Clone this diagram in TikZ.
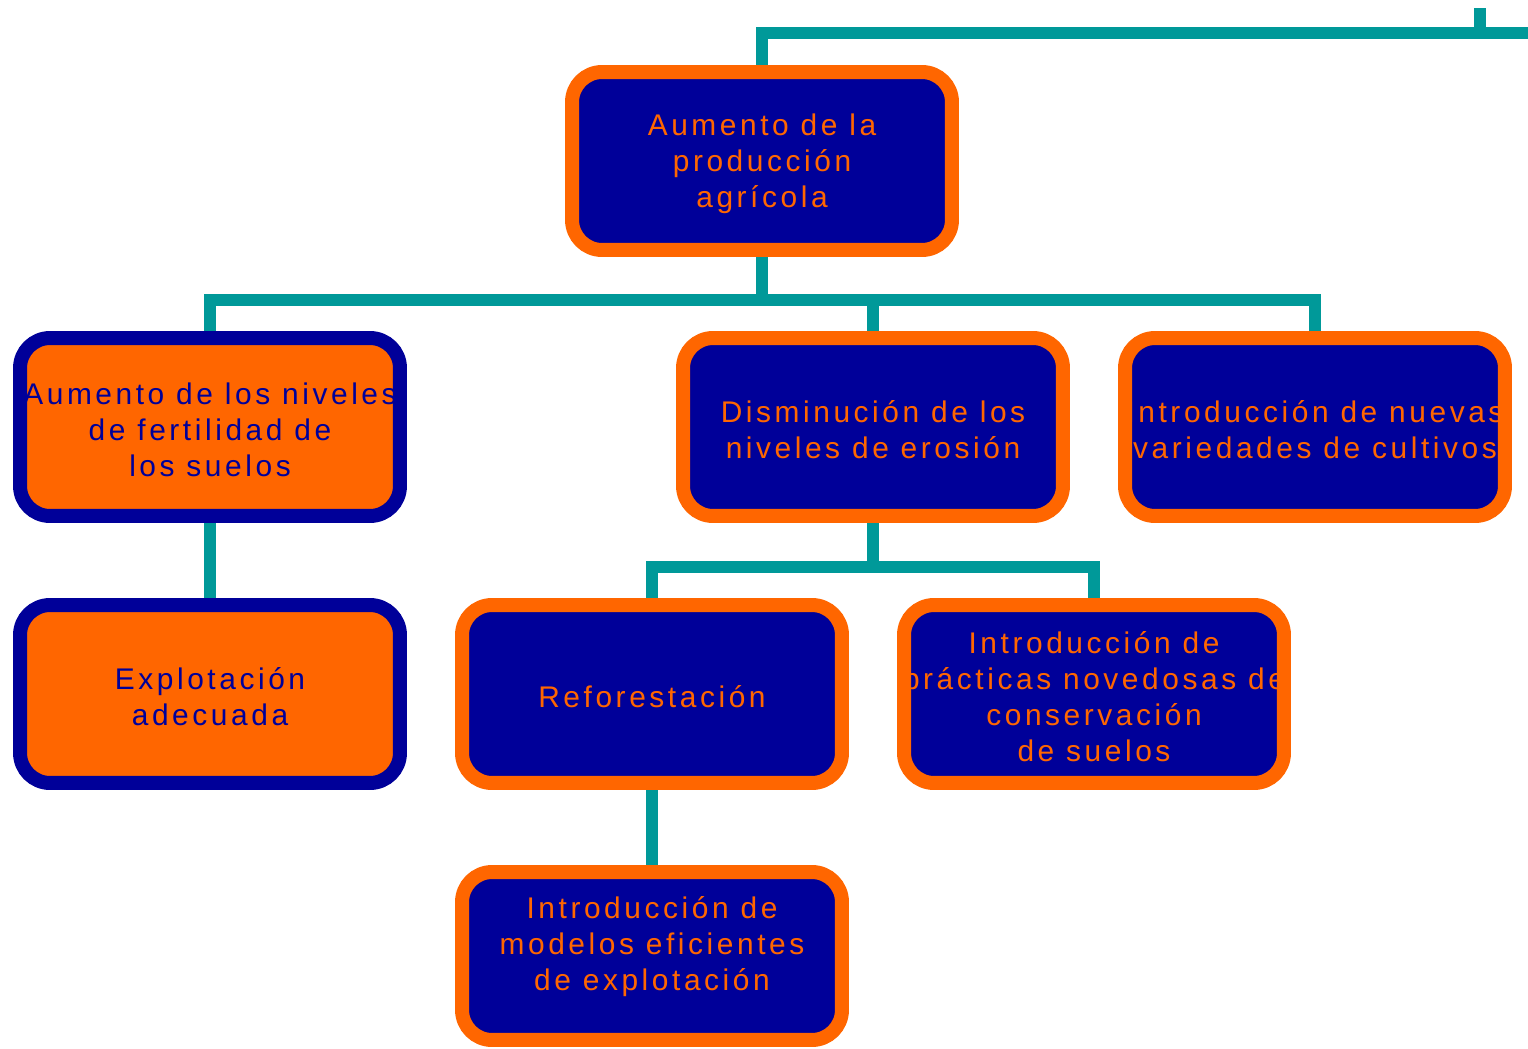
\documentclass[tikz,border=0pt]{standalone}
\usepackage{fontspec}
\newfontfamily\boxfont[LetterSpace=12]{Liberation Sans}
\usetikzlibrary{backgrounds}
\definecolor{navy}{HTML}{000099}
\definecolor{flame}{HTML}{FF6600}
\definecolor{linkteal}{HTML}{009999}

\begin{document}
\begin{tikzpicture}[x=0.02cm,y=-0.02cm,
  card/.style={rectangle, rounded corners=0.6cm, minimum width=7.6cm,
    minimum height=3.56cm, inner sep=0pt, outer sep=0pt},
  bluecard/.style={card, fill=navy},
  orangecard/.style={card, fill=flame},
  cardtext/.style={align=center, inner sep=0pt, yshift=-0.06cm,
    font=\boxfont\fontsize{17}{20.5}\selectfont},
  ontext/.style={cardtext, text=flame},
  bluetext/.style={cardtext, text=navy},
  rim/.style={line width=0.28cm, rounded corners=0.6cm},
  link/.style={draw=linkteal, line width=0.23cm}
]
\begin{scope}[on background layer]
  \fill[white] (0,0) rectangle (1528,1048);
\end{scope}
\useasboundingbox (0,0) rectangle (1528,1048);

% box bodies
\node[bluecard]   (top)  at (762,161) {};
\node[orangecard] (fert) at (210,427) {};
\node[bluecard]   (eros) at (873,427) {};
\node[bluecard]   (vari) at (1315,427) {};
\node[orangecard] (expl) at (210,694) {};
\node[bluecard]   (refo) at (652,694) {};
\node[bluecard]   (prac) at (1094,694) {};
\node[bluecard, minimum height=3.36cm] (mode) at (652,956) {};

% box texts
\node[ontext]   (top-t)  at (top)  {Aumento de la\\producción\\agrícola};
\node[bluetext] (fert-t) at (fert) {Aumento de los niveles\\de fertilidad de\\los suelos};
\node[ontext]   (eros-t) at (eros) {Disminución de los\\niveles de erosión};
\node[ontext]   (vari-t) at (vari) {Introducción de nuevas\\variedades de cultivos};
\node[bluetext] (expl-t) at (expl) {Explotación\\adecuada};
\node[ontext]   (refo-t) at (refo) {Reforestación};
\node[ontext]   (prac-t) at (prac) {Introducción de\\prácticas novedosas de\\conservación\\de suelos};
\node[ontext]   (mode-t) at (652,944) {Introducción de\\modelos eficientes\\de explotación};

% box rims, drawn over the texts
\foreach \b in {top,eros,vari,refo,prac,mode}
  \draw[rim, draw=flame] (\b.south west) rectangle (\b.north east);
\foreach \b in {fert,expl}
  \draw[rim, draw=navy] (\b.south west) rectangle (\b.north east);

% connectors
\coordinate (rightend) at (1528,33);
\coordinate (stubtop) at (1480,8);
\coordinate (j1) at (762,300);
\coordinate (j2) at (873,567);
\begin{scope}[on background layer]
  \draw[link] (top.north) |- (rightend);
  \draw[link] (stubtop) -- (stubtop |- rightend);
  \draw[link] (top.south) -- (j1);
  \draw[link] (fert.north) |- (j1);
  \draw[link] (eros.north) |- (j1);
  \draw[link] (vari.north) |- (j1);
  \draw[link] (fert.south) -- (expl.north);
  \draw[link] (eros.south) -- (j2);
  \draw[link] (refo.north) |- (j2);
  \draw[link] (prac.north) |- (j2);
  \draw[link] (refo.south) -- (mode.north);
\end{scope}
\end{tikzpicture}
\end{document}
